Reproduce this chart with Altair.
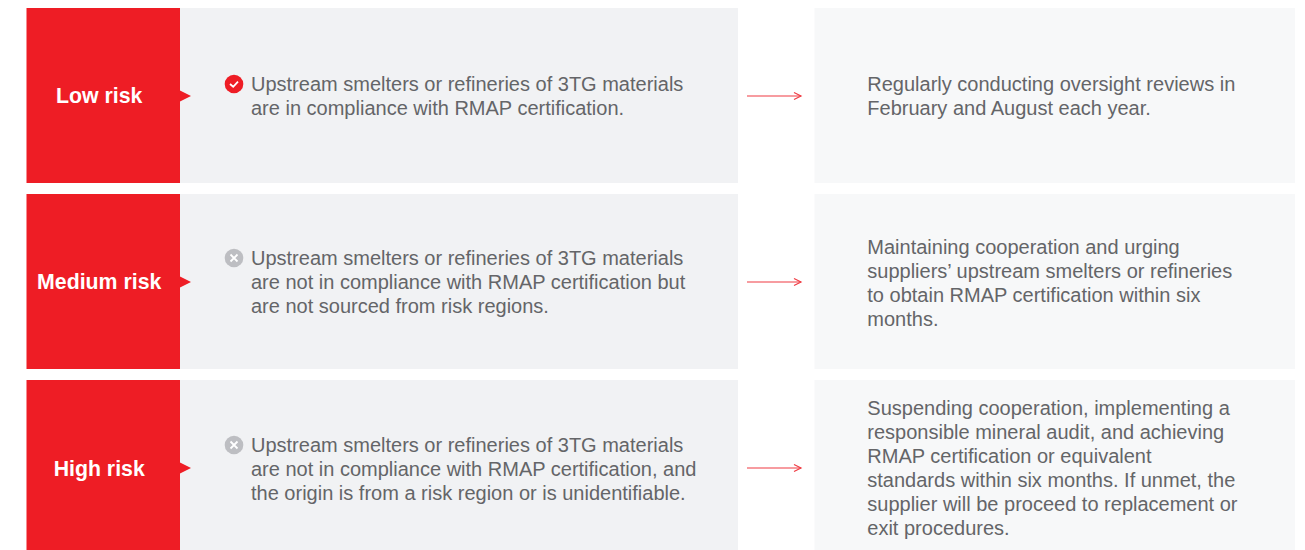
import altair as alt
import pandas as pd

risk_labels = ["Low risk", "Medium risk", "High risk"]
statuses = ["ok", "no", "no"]
criteria = [
    ["Upstream smelters or refineries of 3TG materials",
     "are in compliance with RMAP certification."],
    ["Upstream smelters or refineries of 3TG materials",
     "are not in compliance with RMAP certification but",
     "are not sourced from risk regions."],
    ["Upstream smelters or refineries of 3TG materials",
     "are not in compliance with RMAP certification, and",
     "the origin is from a risk region or is unidentifiable."],
]
actions = [
    ["Regularly conducting oversight reviews in",
     "February and August each year."],
    ["Maintaining cooperation and urging",
     "suppliers\u2019 upstream smelters or refineries",
     "to obtain RMAP certification within six",
     "months."],
    ["Suspending cooperation, implementing a",
     "responsible mineral audit, and achieving",
     "RMAP certification or equivalent",
     "standards within six months. If unmet, the",
     "supplier will be proceed to replacement or",
     "exit procedures."],
]

# Layout of the table, in page pixels
row_tops = [8, 194, 380]
row_bottoms = [183, 369, 550]
row_mids = [96, 282, 468]
text_mids = [96, 282, 469]
action_mids = [96, 283, 468]
LINE = 24
RED = "#ee1d25"
ARROW = "#ef3b43"
TEXT = "#646568"
FONT = "Liberation Sans"

W, H = 1289, 542
X = alt.Scale(domain=[8, 8 + W], range=[0, W])
Y = alt.Scale(domain=[8, 8 + H], range=[0, H])
x = lambda f: alt.X(f, type="quantitative", scale=X, axis=None)
y = lambda f: alt.Y(f, type="quantitative", scale=Y, axis=None)

panels = []
for top, bot in zip(row_tops, row_bottoms):
    panels.append(dict(x0=26.5, x1=180, y0=top, y1=bot, c=RED))
    panels.append(dict(x0=180, x1=738, y0=top, y1=bot, c="#f1f2f4"))
    panels.append(dict(x0=814.5, x1=1295, y0=top, y1=bot, c="#f7f8f9"))
panel_chart = alt.Chart(pd.DataFrame(panels)).mark_rect().encode(
    x=x("x0"), x2="x1", y=y("y0"), y2="y1",
    color=alt.Color("c:N", scale=None))

lines = []
icons = []
for mid, amid, crit, act, st in zip(text_mids, action_mids, criteria, actions, statuses):
    n = len(crit)
    first = mid - (n - 1) * LINE / 2
    for i, t in enumerate(crit):
        lines.append(dict(x=251, y=first + i * LINE + 1, t=t))
    for i, t in enumerate(act):
        lines.append(dict(x=867.3, y=amid - (len(act) - 1) * LINE / 2 + i * LINE + 1, t=t))
    icons.append(dict(x=234, y=first, st=st, c=RED if st == "ok" else "#bdbec2"))
lines = pd.DataFrame(lines)
icons = pd.DataFrame(icons)

text_chart = alt.Chart(lines).mark_text(
    align="left", baseline="middle", font=FONT, fontSize=20, color=TEXT
).encode(x=x("x"), y=y("y"), text="t:N")

label_chart = alt.Chart(pd.DataFrame({"x": [99.2] * 3, "y": [m + 1 for m in text_mids], "t": risk_labels})).mark_text(
    align="center", baseline="middle", font=FONT, fontSize=21.3, fontWeight="bold", color="white"
).encode(x=x("x"), y=y("y"), text="t:N")

pointer = alt.Chart(pd.DataFrame({"x": [185.5] * 3, "y": row_mids})).mark_point(
    shape="M-1,-1L1,0L-1,1Z", size=121, filled=True, opacity=1, color=RED
).encode(x=x("x"), y=y("y"))

icon_disc = alt.Chart(icons).mark_point(
    shape="circle", size=346, filled=True, opacity=1
).encode(x=x("x"), y=y("y"), color=alt.Color("c:N", scale=None))

check = alt.Chart(icons[icons.st == "ok"]).mark_point(
    shape="M-1,0L-0.2,0.7L1,-0.6", size=64, filled=False, opacity=1, color="white", strokeWidth=1.8
).encode(x=x("x"), y=y("y"))

cross = alt.Chart(icons[icons.st == "no"]).mark_point(
    shape="M-1,-1L1,1M-1,1L1,-1", size=49, filled=False, opacity=1, color="white", strokeWidth=1.8
).encode(x=x("x"), y=y("y"))

arrow_line = alt.Chart(pd.DataFrame({"x0": [747] * 3, "x1": [801] * 3, "y": row_mids})).mark_rule(
    color=ARROW, strokeWidth=1.2
).encode(x=x("x0"), x2="x1", y=y("y"))

arrow_head = alt.Chart(pd.DataFrame({"x": [797.5] * 3, "y": row_mids})).mark_point(
    shape="M-1,-1L1,0L-1,1", size=49, filled=False, opacity=1, color=ARROW, strokeWidth=1.2
).encode(x=x("x"), y=y("y"))

chart = alt.layer(
    panel_chart, pointer, arrow_line, arrow_head, icon_disc, check, cross, text_chart, label_chart
).properties(width=W, height=H, padding=0, background="white").configure_view(stroke=None)

chart.save("out.html", embed_options={"renderer": "svg", "actions": False})
